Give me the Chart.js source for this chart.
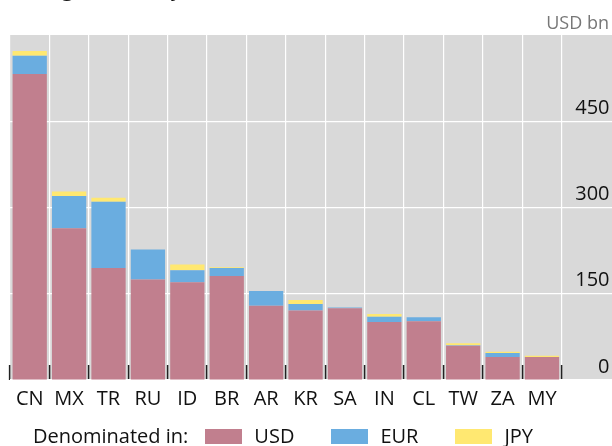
<!DOCTYPE html>
<html>
<head>
<meta charset="utf-8">
<script src="https://cdn.jsdelivr.net/npm/chart.js@4/dist/chart.umd.min.js"></script>
<style>
  html, body { margin: 0; padding: 0; background: #fff; overflow: hidden; }
  #wrap { position: relative; width: 612px; height: 446px; font-family: "Open Sans", sans-serif; overflow: hidden; }
  #chart { position: absolute; left: 0; top: 0; }
  #title { position: absolute; left: 10px; top: -24px; font-size: 22px; line-height: 22px; color: #111; white-space: nowrap; }
  #unit { position: absolute; right: 3px; top: 10px; font-size: 18px; line-height: 24px; color: #777; }
  #legend { position: absolute; left: 33px; top: 424px; height: 24px; display: flex; align-items: center; font-size: 20px; line-height: 24px; color: #111; white-space: nowrap; }
  #legend .lead { margin-right: 17px; }
  #legend .item { display: flex; align-items: center; margin-right: 37px; }
  #legend .sw { width: 37px; height: 15px; margin-right: 12px; }
</style>
</head>
<body>
<div id="wrap">
  <canvas id="chart" width="612" height="446"></canvas>
  <div id="title">Foreign currency debt</div>
  <div id="unit">USD bn</div>
  <div id="legend"><span class="lead">Denominated in:</span></div>
</div>
<script>
(() => {
  "use strict";

  const countries = ["CN", "MX", "TR", "RU", "ID", "BR", "AR", "KR", "SA", "IN", "CL", "TW", "ZA", "MY"];
  const usd = [532, 264, 195, 175, 170, 181, 129, 121, 125, 101, 102, 59.5, 40, 40];
  const eur = [32, 56, 115, 52, 21, 14, 26, 11, 1, 9, 7, 1, 7, 0];
  const jpy = [8, 8, 7, 0, 10, 1, 0, 7, 0, 5, 0, 3.5, 2, 2];
  const yTicks = [0, 150, 300, 450];

  const FONT = "'Open Sans', sans-serif";
  const PLOT_BG = "#d9d9d9";

  const series = [
    { label: "USD", data: usd, color: "#c17f8e" },
    { label: "EUR", data: eur, color: "#6aade0" },
    { label: "JPY", data: jpy, color: "#ffe871" }
  ];

  // grey panel runs under the value labels too
  const plotBg = {
    id: "plotBg",
    beforeDraw(chart) {
      const { ctx, chartArea: a } = chart;
      ctx.save();
      ctx.fillStyle = PLOT_BG;
      ctx.fillRect(a.left, a.top, chart.width - a.left, a.bottom - a.top);
      ctx.restore();
    }
  };

  function renderLegend() {
    const el = document.getElementById("legend");
    series.forEach(s => {
      const item = document.createElement("span");
      item.className = "item";
      item.innerHTML = `<span class="sw" style="background:${s.color}"></span><span>${s.label}</span>`;
      el.appendChild(item);
    });
  }

  new Chart(document.getElementById("chart"), {
    type: "bar",
    data: {
      labels: countries,
      datasets: series.map(s => ({
        label: s.label,
        data: s.data,
        backgroundColor: s.color,
        borderWidth: 0,
        barPercentage: 0.87,
        categoryPercentage: 1
      }))
    },
    options: {
      responsive: false,
      animation: false,
      devicePixelRatio: 1,
      layout: { padding: { left: 10, top: 35, right: 0, bottom: 36 } },
      plugins: {
        legend: { display: false },
        tooltip: { enabled: false }
      },
      scales: {
        x: {
          stacked: true,
          offset: true,
          grid: {
            offset: true,
            color: "#ffffff",
            lineWidth: 1.2,
            drawTicks: true,
            tickLength: -15,
            tickColor: "#222222",
            tickWidth: 1.5
          },
          border: { display: false },
          ticks: {
            color: "#111",
            font: { family: FONT, size: 20 },
            padding: 22,
            maxRotation: 0,
            autoSkip: false
          },
          afterFit(scale) {
            scale.height = 30;
            scale.paddingLeft = 0;
            scale.paddingRight = 0;
          }
        },
        y: {
          position: "right",
          stacked: true,
          min: 0,
          max: 600,
          afterBuildTicks(scale) { scale.ticks = yTicks.map(v => ({ value: v })); },
          grid: {
            color: "#ffffff",
            lineWidth: 1.2,
            drawTicks: true,
            tickLength: 51,
            tickColor: "#ffffff"
          },
          border: { display: false },
          ticks: {
            mirror: true,
            padding: 47.8,
            labelOffset: -13,
            color: "#111",
            font: { family: FONT, size: 20 }
          },
          afterFit(scale) {
            scale.width = 50.3;
            scale.paddingTop = 0;
            scale.paddingBottom = 0;
          }
        }
      }
    },
    plugins: [plotBg]
  });

  renderLegend();
})();
</script>
</body>
</html>
